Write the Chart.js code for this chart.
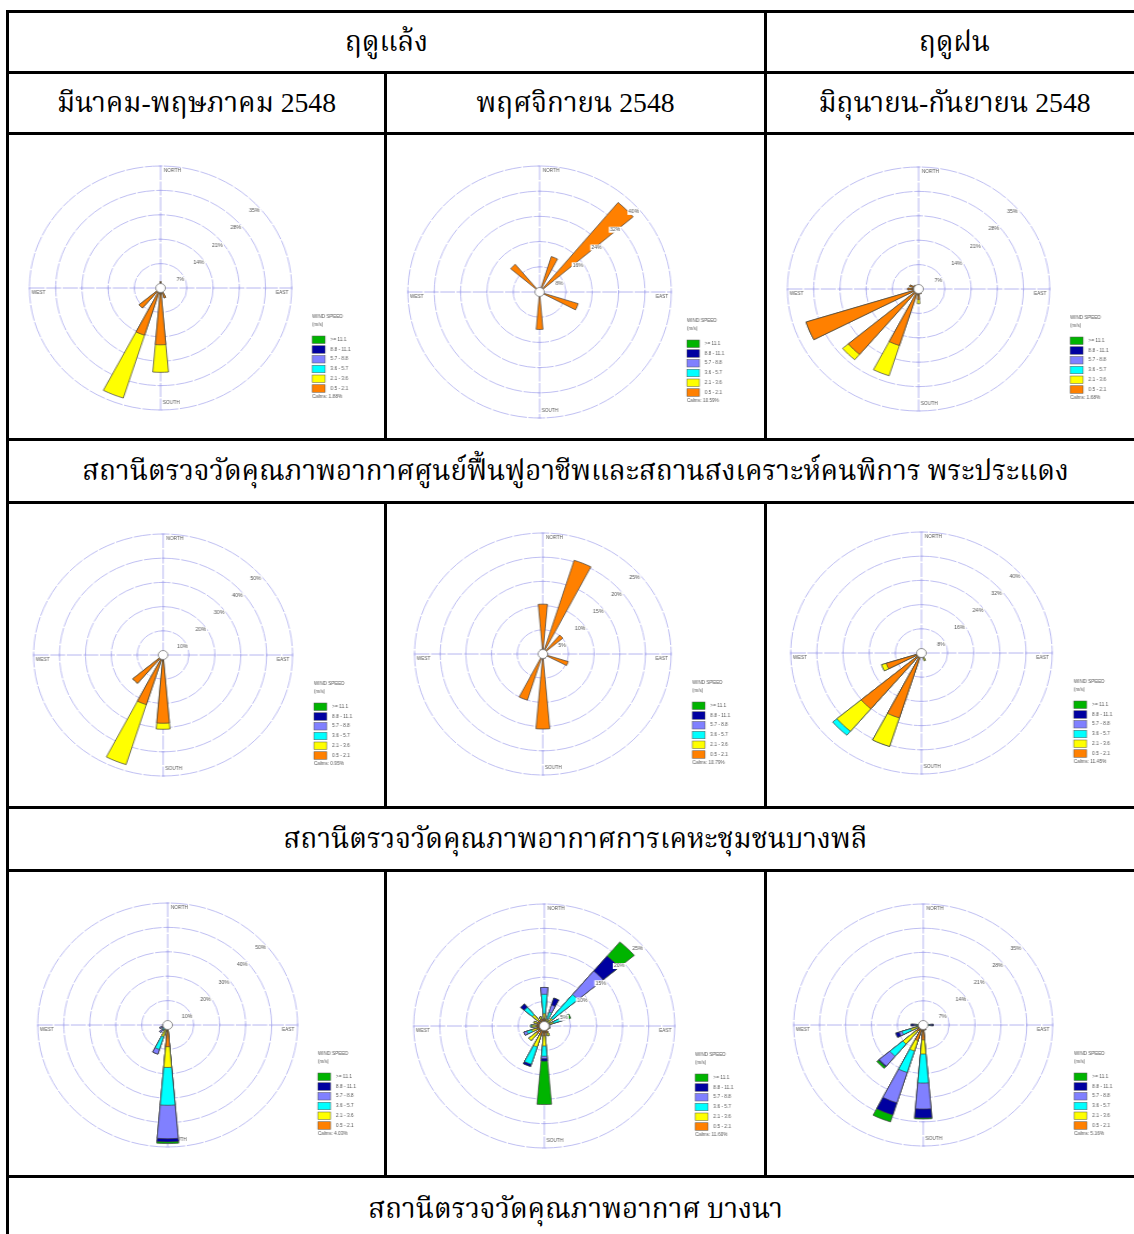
<!DOCTYPE html>
<html>
<head>
<meta charset="utf-8">
<script src="https://cdn.jsdelivr.net/npm/chart.js@4.4.1/dist/chart.umd.min.js"></script>
<style>
  html, body { margin: 0; padding: 0; background: #fff; width: 1134px; height: 1234px; overflow: hidden; }
  #sheet { position: relative; width: 1134px; height: 1234px; }
  .line { position: absolute; background: #000; z-index: 5; }
  .cell {
    position: absolute; display: flex; align-items: center; justify-content: center;
    font-family: "Liberation Serif", "Noto Serif Thai", "Noto Sans Thai", "Norasi", "Kinnari", serif;
    font-size: 27.7px; color: #000; white-space: nowrap; line-height: 1;
  }
  canvas.rose { position: absolute; transform-origin: 0 0; }
</style>
</head>
<body>
<div id="sheet"></div>
<script>
// ---- data -------------------------------------------------------------
const directions = ['N', 'NNE', 'NE', 'ENE', 'E', 'ESE', 'SE', 'SSE', 'S', 'SSW', 'SW', 'WSW', 'W', 'WNW', 'NW', 'NNW'];
const speedBins = ['0.5 - 2.1', '2.1 - 3.6', '3.6 - 5.7', '5.7 - 8.8', '8.8 - 11.1', '>= 11.1'];
const binColors = ['#ff8000', '#ffff00', '#00ffff', '#8080ff', '#0000a0', '#00b400'];

const seasons = ['ฤดูแล้ง', 'ฤดูฝน'];
const periods = ['มีนาคม-พฤษภาคม 2548', 'พฤศจิกายน 2548', 'มิถุนายน-กันยายน 2548'];
const stations = [
  'สถานีตรวจวัดคุณภาพอากาศศูนย์ฟื้นฟูอาชีพและสถานสงเคราะห์คนพิการ พระประแดง',
  'สถานีตรวจวัดคุณภาพอากาศการเคหะชุมชนบางพลี',
  'สถานีตรวจวัดคุณภาพอากาศ บางนา',
];

// frequency (%) per speed class, slowest class first, 16 directions from N clockwise
const rose1 = [
  [1.8, 0.6, 0.4, 0.3, 0.3, 0.5, 0.8, 3.0, 16.3, 14.2, 7.5, 1.2, 0.6, 0.4, 0.5, 0.8],
  [0, 0, 0, 0, 0, 0, 0, 0, 7.9, 18.9, 0, 0, 0, 0, 0, 0],
];
const rose2 = [
  [0.8, 11.8, 37.1, 1.0, 0.8, 12.3, 1.0, 0.8, 11.9, 0.8, 0.6, 0.5, 0.6, 1.0, 11.5, 0.8],
];
const rose3 = [
  [0.8, 0.5, 0.5, 0.4, 0.5, 0.4, 0.6, 1.5, 3.0, 17.0, 24.5, 31.5, 2.9, 2.5, 1.5, 0.8],
  [0, 0, 0, 0, 0, 0, 0, 0, 1.2, 9.1, 2.0, 0, 0, 0, 0, 0],
];
const rose4 = [
  [1.2, 0.8, 0.5, 0.4, 0.5, 0.6, 0.8, 1.5, 28.2, 21.5, 15.3, 1.2, 0.6, 0.5, 0.5, 0.8],
  [0, 0, 0, 0, 0, 0, 0, 0, 2.5, 26.0, 0, 0, 0, 0, 0, 0],
];
const rose5 = [
  [10.3, 20.3, 5.1, 0.8, 1.0, 5.2, 0.8, 1.0, 15.5, 10.0, 0.8, 0.6, 0.6, 0.5, 0.6, 1.0],
];
const rose6 = [
  [0.8, 1.0, 1.2, 0.8, 0.6, 0.8, 1.0, 1.5, 1.5, 22.5, 24.1, 11.3, 1.0, 0.6, 0.5, 0.6],
  [0, 0, 0, 0, 0, 0, 0, 1.2, 0, 9.9, 9.7, 1.5, 0, 0, 0, 0],
  [0, 0, 0, 0, 0, 0, 0, 0, 0, 0, 1.7, 0, 0, 0, 0, 0],
];
const rose7 = [
  [0.6, 0.4, 0.4, 0.3, 0.5, 0.3, 0.4, 0.8, 8.9, 1.5, 0.8, 0.6, 0.5, 0.4, 0.4, 0.5],
  [0, 0, 0, 0, 0, 0, 0, 0, 8.5, 3.5, 0.8, 0.6, 0, 0, 0, 0],
  [0, 0, 0, 0, 0, 0, 0, 0, 15.5, 5.5, 1.0, 0.8, 0.4, 0, 0, 0],
  [0, 0, 0, 0, 0, 0, 0, 0, 13.7, 2.0, 1.5, 1.2, 0.8, 0, 0, 0.8],
  [0, 0, 0, 0, 0, 0, 0, 0, 1.3, 0, 0, 0, 0.3, 0, 0, 0],
  [0, 0, 0, 0, 0, 0, 0, 0, 0.7, 0, 0, 0, 0, 0, 0, 0],
];
const rose8 = [
  [1.5, 1.0, 0.8, 1.0, 1.0, 0.8, 1.0, 1.5, 2.0, 2.0, 2.0, 1.5, 1.5, 1.5, 1.5, 1.5],
  [1.0, 0.5, 1.2, 0.8, 0, 0.3, 0, 0.6, 2.1, 2.5, 1.9, 1.0, 0.8, 0.6, 1.5, 0.5],
  [4.0, 1.5, 6.4, 1.5, 0, 0, 0, 0, 2.1, 3.7, 0, 1.0, 0.3, 0, 2.0, 0],
  [1.4, 1.5, 6.3, 0.5, 0, 0, 0, 0, 0.5, 0, 0, 0.6, 0, 0, 0, 0],
  [0, 1.5, 4.0, 0.5, 0, 0, 0, 0, 0.5, 0.5, 0, 0, 0, 0, 0.9, 0],
  [0, 0, 3.8, 1.0, 0, 0, 0, 0, 8.9, 0, 0, 0, 0, 0, 0, 0],
];
const rose9 = [
  [0.8, 0.6, 0.5, 0.5, 0.8, 0.5, 0.6, 1.5, 4.3, 4.7, 2.5, 1.5, 1.0, 0.6, 0.6, 0.8],
  [0, 0, 0, 0, 0.5, 0, 0, 0, 4.1, 3.2, 4.7, 2.0, 0.5, 0, 0, 0],
  [0, 0, 0, 0, 0.5, 0, 0, 0, 8.4, 6.5, 4.6, 2.5, 0.5, 0, 0, 0],
  [0, 0, 0, 0, 0.4, 0, 0, 0, 7.5, 9.2, 3.7, 0.8, 0.5, 0, 0, 0],
  [0, 0, 0, 0, 0.5, 0, 0, 0, 2.6, 3.7, 0.3, 1.0, 0.8, 0, 0, 0],
  [0, 0, 0, 0, 0, 0, 0, 0, 0.3, 2.1, 0.6, 0, 0, 0, 0, 0],
];

// ring labels (%) for each rose
const rings1 = [7, 14, 21, 28, 35];
const rings2 = [8, 16, 24, 32, 40];
const rings3 = [7, 14, 21, 28, 35];
const rings4 = [10, 20, 30, 40, 50];
const rings5 = [5, 10, 15, 20, 25];
const rings6 = [8, 16, 24, 32, 40];
const rings7 = [10, 20, 30, 40, 50];
const rings8 = [5, 10, 15, 20, 25];
const rings9 = [7, 14, 21, 28, 35];

const calms = ['1.88', '10.59', '1.68', '0.95', '10.79', '11.45', '4.03', '11.60', '5.16'];

// ---- table layout -----------------------------------------------------
const sheet = document.getElementById('sheet');
const hLines = [10, 71, 132, 438, 501, 806, 869, 1175];
const colX = [6, 384, 764, 1142];
const T = 3;

function line(x, y, w, h) {
  const d = document.createElement('div');
  d.className = 'line';
  Object.assign(d.style, { left: x + 'px', top: y + 'px', width: w + 'px', height: h + 'px' });
  sheet.appendChild(d);
}
function cell(x0, x1, y0, y1, text) {
  const d = document.createElement('div');
  d.className = 'cell';
  Object.assign(d.style, { left: x0 + 'px', top: y0 + 'px', width: (x1 - x0) + 'px', height: (y1 - y0) + 'px' });
  d.textContent = text;
  sheet.appendChild(d);
}

hLines.forEach((y) => line(colX[0], y, colX[3] - colX[0] + T, T));
line(colX[0], hLines[0], T, 1300);
line(colX[3], hLines[0], T, 1300);
// header row: one divider only
line(colX[2], hLines[0], T, hLines[1] - hLines[0]);
// period row and the three chart rows: both dividers
[[1, 2], [2, 3], [4, 5], [6, 7]].forEach(([a, b]) => {
  line(colX[1], hLines[a], T, hLines[b] - hLines[a]);
  line(colX[2], hLines[a], T, hLines[b] - hLines[a]);
});

cell(colX[0] + T, colX[2], hLines[0] + T, hLines[1], seasons[0]);
cell(colX[2] + T, colX[3], hLines[0] + T, hLines[1], seasons[1]);
periods.forEach((p, i) => cell(colX[i] + T, colX[i + 1], hLines[1] + T, hLines[2], p));
cell(colX[0] + T, colX[3], hLines[3] + T, hLines[4], stations[0]);
cell(colX[0] + T, colX[3], hLines[5] + T, hLines[6], stations[1]);
cell(colX[0] + T, colX[3], hLines[7] + T, hLines[7] + 64, stations[2]);

// ---- wind roses -------------------------------------------------------
const roseDecor = {
  id: 'roseDecor',
  beforeDatasetsDraw(chart, args, opts) {
    const s = chart.scales.r;
    const ctx = chart.ctx;
    const cx = s.xCenter, cy = s.yCenter, R = s.drawingArea;
    ctx.save();
    ctx.strokeStyle = '#aeaeee';
    ctx.lineWidth = 0.9;
    ctx.setLineDash([14, 1.5]);
    ctx.beginPath();
    ctx.moveTo(cx - R, cy); ctx.lineTo(cx + R, cy);
    ctx.moveTo(cx, cy - R); ctx.lineTo(cx, cy + R);
    ctx.stroke();
    ctx.setLineDash([]);
    ctx.beginPath();
    opts.rings.forEach((v) => {
      const d = s.getDistanceFromCenterForValue(v);
      ctx.moveTo(cx - 1.5, cy - d); ctx.lineTo(cx + 1.5, cy - d);
      ctx.moveTo(cx - 1.5, cy + d); ctx.lineTo(cx + 1.5, cy + d);
      ctx.moveTo(cx - d, cy - 1.5); ctx.lineTo(cx - d, cy + 1.5);
      ctx.moveTo(cx + d, cy - 1.5); ctx.lineTo(cx + d, cy + 1.5);
    });
    ctx.stroke();
    ctx.fillStyle = '#555';
    ctx.font = '4.5px "Liberation Sans", Arial, sans-serif';
    ctx.textBaseline = 'middle';
    ctx.textAlign = 'left';
    ctx.fillText('NORTH', cx + 3, cy - R + 5);
    ctx.fillText('SOUTH', cx + 2, cy + R - 7);
    ctx.fillText('WEST', cx - R + 2, cy + 5);
    ctx.textAlign = 'right';
    ctx.fillText('EAST', cx + R - 3, cy + 5);
    ctx.restore();
  },
  afterDatasetsDraw(chart, args, opts) {
    const s = chart.scales.r;
    const ctx = chart.ctx;
    const cx = s.xCenter, cy = s.yCenter;
    ctx.save();
    ctx.font = '5px "Liberation Sans", Arial, sans-serif';
    ctx.textAlign = 'center';
    ctx.textBaseline = 'middle';
    opts.rings.forEach((v) => {
      const d = s.getDistanceFromCenterForValue(v);
      const x = cx + 0.707 * d + 1, y = cy - 0.707 * d + 9;
      const t = v + '%';
      const w = ctx.measureText(t).width;
      ctx.fillStyle = '#fff';
      ctx.fillRect(x - w / 2 - 1, y - 3, w + 2, 6);
      ctx.fillStyle = '#555';
      ctx.fillText(t, x, y);
    });
    ctx.beginPath();
    ctx.arc(cx, cy, 4.5, 0, Math.PI * 2);
    ctx.fillStyle = '#fff';
    ctx.fill();
    ctx.strokeStyle = '#777';
    ctx.lineWidth = 0.8;
    ctx.stroke();
    ctx.restore();
  },
  afterDraw(chart, args, opts) {
    const s = chart.scales.r;
    const ctx = chart.ctx;
    const x = s.xCenter + 141, cy = s.yCenter;
    ctx.save();
    ctx.font = '4.5px "Liberation Sans", Arial, sans-serif';
    ctx.textBaseline = 'middle';
    ctx.textAlign = 'left';
    ctx.fillStyle = '#555';
    ctx.fillText('WIND SPEED', x, cy + 29);
    ctx.fillText('(m/s)', x, cy + 37);
    for (let j = 0; j < speedBins.length; j++) {
      const k = speedBins.length - 1 - j;
      const top = cy + 48 + j * 9.75;
      ctx.fillStyle = binColors[k];
      ctx.fillRect(x, top, 12, 7.5);
      ctx.strokeStyle = '#555';
      ctx.lineWidth = 0.5;
      ctx.strokeRect(x, top, 12, 7.5);
      ctx.fillStyle = '#555';
      ctx.fillText(speedBins[k], x + 17, top + 3.75);
    }
    ctx.fillText('Calms: ' + opts.calm + '%', x, cy + 109);
    ctx.restore();
  },
};

// where each rose sits: centre (page px), vertical radius, horizontal stretch of the scan
const panels = [
  { bins: rose1, rings: rings1, col: 0, row: 2, cx: 161.3, cy: 288.0, r: 122, sx: 1.075 },
  { bins: rose2, rings: rings2, col: 1, row: 2, cx: 540.0, cy: 292.3, r: 126, sx: 1.045 },
  { bins: rose3, rings: rings3, col: 2, row: 2, cx: 919.0, cy: 289.7, r: 122, sx: 1.075 },
  { bins: rose4, rings: rings4, col: 0, row: 4, cx: 163.7, cy: 655.3, r: 121, sx: 1.07 },
  { bins: rose5, rings: rings5, col: 1, row: 4, cx: 543.3, cy: 654.7, r: 121, sx: 1.06 },
  { bins: rose6, rings: rings6, col: 2, row: 4, cx: 922.3, cy: 653.7, r: 121, sx: 1.08 },
  { bins: rose7, rings: rings7, col: 0, row: 6, cx: 168.0, cy: 1025.0, r: 122, sx: 1.065 },
  { bins: rose8, rings: rings8, col: 1, row: 6, cx: 545.0, cy: 1026.7, r: 122, sx: 1.07 },
  { bins: rose9, rings: rings9, col: 2, row: 6, cx: 923.3, cy: 1025.0, r: 121, sx: 1.07 },
];

function makeRose(p, idx) {
  const left = colX[p.col] + T;
  const top = hLines[p.row] + T;
  const cellW = colX[p.col + 1] - left;
  const cellH = hLines[p.row + 1] - top;
  const W = Math.round(cellW / p.sx);
  const canvas = document.createElement('canvas');
  canvas.className = 'rose';
  canvas.width = W;
  canvas.height = cellH;
  canvas.style.left = left + 'px';
  canvas.style.top = top + 'px';
  canvas.style.transform = `scaleX(${p.sx})`;
  sheet.appendChild(canvas);

  const ccx = (p.cx - left) / p.sx;
  const ccy = p.cy - top;

  const labels = [];
  directions.forEach((d) => { labels.push(d); labels.push(''); });
  let run = directions.map(() => 0);
  const datasets = p.bins.map((vals, i) => {
    run = run.map((v, k) => v + vals[k]);
    const data = [];
    run.forEach((v) => { data.push(Math.round(v * 100) / 100); data.push(0); });
    return {
      label: speedBins[i],
      data,
      backgroundColor: binColors[i],
      borderColor: '#404040',
      borderWidth: (c) => (c.raw > 0 ? 0.7 : 0),
      angle: (c) => (c.dataIndex % 2 ? 12.5 : 10),
    };
  });

  new Chart(canvas, {
    type: 'polarArea',
    data: { labels, datasets },
    options: {
      responsive: false,
      animation: false,
      events: [],
      layout: {
        padding: {
          left: ccx - p.r,
          right: W - ccx - p.r,
          top: ccy - p.r,
          bottom: cellH - ccy - p.r,
        },
      },
      scales: {
        r: {
          min: 0,
          max: p.rings[p.rings.length - 1],
          startAngle: -5,
          ticks: { display: false, stepSize: p.rings[0] },
          grid: { color: '#b8b8f0', lineWidth: 0.9, circular: true },
          border: { dash: [16, 1.5] },
          angleLines: { display: false },
          pointLabels: { display: false },
        },
      },
      plugins: {
        legend: { display: false },
        tooltip: { enabled: false },
        roseDecor: { rings: p.rings, calm: calms[idx] },
      },
    },
    plugins: [roseDecor],
  });
}

panels.forEach(makeRose);
</script>
</body>
</html>
